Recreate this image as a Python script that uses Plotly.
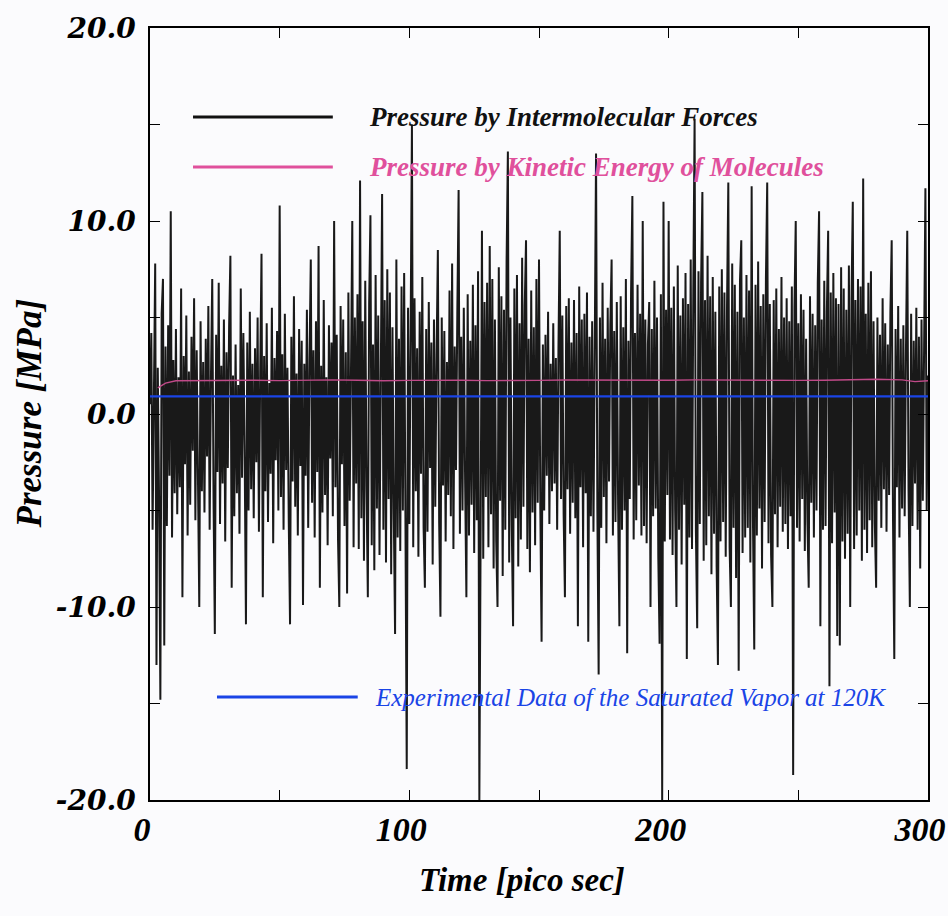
import plotly.graph_objects as go

# ---------------- data ----------------
TIME_STEP = 0.5  # pico sec between samples of the intermolecular pressure

# Pressure by intermolecular forces [MPa], one row = 10 ps (20 samples)
row00 = [0.5, 4.2, -6.0, 3.1, 7.8, -13.0, 2.4, -4.5, -14.8, 5.2, 7.0, -12.0, 3.5, -5.8, 4.6, -3.2, 10.5, -6.4, 2.8, -4.1]
row01 = [4.4, -5.2, 1.9, -3.8, 6.5, -9.5, 3.0, -2.6, 5.1, -6.3, 2.2, -4.7, 4.0, -1.9, 6.0, -5.5, 3.3, -3.4, -10.0, 4.8]
row02 = [-4.0, 2.7, -5.1, 3.9, -2.2, 5.6, -6.0, 1.8, 7.0, -4.4, -11.4, 4.1, -3.0, 6.8, -5.7, 2.5, -3.6, 4.9, -6.6, 3.2]
row03 = [-2.8, 4.5, 8.2, -9.0, 2.0, -5.3, 3.6, -4.1, 1.5, -6.2, 6.5, -3.3, 4.2, -2.0, -10.9, 3.7, -5.0, 5.3, -3.9, 2.6]
row04 = [-5.4, 3.4, -2.5, 5.0, -6.1, 2.3, 8.3, -9.5, 3.0, -4.0, 4.7, -5.6, 1.6, -3.1, 5.5, -6.7, 2.9, -2.4, 4.3, -5.0]
row05 = [10.8, -4.3, 3.1, -6.0, 5.2, -2.9, 2.4, -5.5, -10.9, 4.0, -3.5, 6.1, -4.8, 2.1, -6.3, 4.4, -2.7, 3.8, -9.9, 2.6]
row06 = [-3.2, 5.4, -5.9, 2.8, 8.0, -4.6, 3.3, -6.4, 4.8, -3.0, 8.7, -9.0, 2.5, -5.1, 5.9, -4.2, 1.9, -6.8, 4.6, -2.3]
row07 = [3.7, -5.3, 10.0, -3.8, 4.1, -6.5, -10.0, 5.6, -2.6, 4.9, -5.8, 3.2, -9.3, 6.3, -4.5, 2.2, 10.0, -6.9, 5.0, -3.6]
row08 = [6.2, -7.0, 12.1, -5.4, 4.8, -7.6, 6.9, -3.9, -9.5, 5.7, 10.3, -6.8, 3.6, -8.1, 7.2, -4.9, 5.1, -7.3, 4.0, 11.4]
row09 = [-6.0, 5.9, -7.7, 7.5, -4.4, 6.3, -8.3, 4.5, -5.2, -11.4, 8.0, -6.4, 3.9, -7.1, 6.6, -5.0, 7.3, -8.6, -18.4, 5.5]
row10 = [-5.7, 4.2, 15.0, -6.9, 6.0, -4.0, 3.4, -7.4, 5.3, -3.1, 7.1, -5.9, -9.0, 4.4, -6.1, 5.8, -2.8, 3.7, -7.8, 4.9]
row11 = [-4.8, 3.1, 8.5, -5.6, -10.5, 5.0, -3.7, 4.3, -6.6, 2.7, -4.2, 6.4, -5.3, 7.8, -7.0, 3.5, -2.9, 5.2, 11.6, -6.2]
row12 = [4.0, -5.0, 5.5, -3.4, -9.5, 6.2, -6.3, 3.8, -4.7, 6.7, -7.2, 4.6, -5.5, 7.4, -20.0, -6.0, 9.5, -7.5, 5.8, -4.3]
row13 = [6.8, -6.9, 8.7, -5.2, 7.0, -8.0, 4.9, -6.6, -10.0, 7.6, -4.5, 6.1, -8.4, 5.4, -6.0, 7.9, 13.6, -7.7, 5.0, -5.8]
row14 = [-11.0, 6.5, -5.4, 7.2, -7.9, 4.7, -6.5, 8.1, -4.8, 5.6, 9.0, -7.0, 3.9, -8.2, 6.4, -5.1, 4.5, -6.8, 7.0, -4.6]
row15 = [8.0, -4.8, -11.8, 3.6, -5.0, 4.1, -3.2, 5.3, -5.7, 2.6, -4.0, 4.7, -3.6, 2.9, -6.0, 3.4, 9.5, -4.4, 5.1, -5.2]
row16 = [-9.5, 5.6, -3.9, 6.0, -6.2, 3.7, -4.6, 5.9, -5.4, 4.2, -11.0, 6.6, -3.8, 4.9, -6.9, 5.2, -4.1, 6.3, -11.8, 4.0]
row17 = [-5.3, 4.8, -6.1, 3.5, 13.5, -4.9, -13.5, 5.0, -5.9, 6.8, -4.3, 3.9, -6.7, 5.5, -3.5, 4.6, 8.0, -6.3, 4.3, -5.6]
row18 = [5.8, -4.7, -11.0, 6.1, -6.0, 4.5, -5.0, 7.0, -12.4, 3.8, -4.4, 6.3, 11.3, -6.5, 4.2, -5.5, 6.7, -3.7, 5.2, -6.3]
row19 = [10.0, -5.8, 4.9, -6.7, 3.6, 5.8, -10.0, 4.4, -5.3, 6.9, -4.9, 5.0, -7.4, -11.9, 6.2, -20.0, 11.0, -6.6, 5.4, -4.2]
row20 = [10.0, -6.5, 5.5, -7.3, 6.6, -5.0, -10.0, 7.7, -6.0, 5.1, -7.8, 6.0, -4.7, 7.3, -12.7, 5.7, -6.4, 8.0, -7.0, 6.4]
row21 = [15.3, -6.1, -11.1, 7.4, -5.7, 6.8, 11.5, -7.6, 5.9, -6.8, 8.2, -5.3, 6.1, -8.3, 7.1, -6.2, 5.3, -7.9, -13.0, 6.6]
row22 = [-6.6, 7.5, -5.6, 6.3, -7.4, 5.6, 12.0, -6.9, -10.0, 7.8, -5.9, 6.7, -8.5, 5.3, -13.3, 6.9, 9.0, -7.2, 5.0, -6.4]
row23 = [7.2, -5.9, 6.4, -7.7, 11.8, -5.5, -12.2, 6.7, -6.3, 7.9, -4.9, 5.6, -8.0, 6.2, -5.6, 7.0, 12.0, -6.7, 5.7, -7.3]
row24 = [-10.0, 5.9, -5.2, 6.5, -6.9, 4.4, -4.8, 7.1, -6.1, 5.0, -5.7, 6.0, -7.0, 4.8, -5.3, 6.6, -18.7, 5.5, 10.0, -5.9]
row25 = [4.7, -6.6, 6.2, -4.4, 5.4, -7.1, 3.9, -5.5, -9.0, 6.1, -4.6, 5.2, -6.4, 4.6, -5.0, 6.8, 10.5, -11.0, 4.9, -6.0]
row26 = [6.9, -5.8, 5.3, 9.5, -14.1, 6.3, -6.7, 7.3, -5.1, 6.0, -11.5, 5.7, -12.0, 7.6, -6.6, 6.5, -7.5, 5.4, -6.2, 7.7]
row27 = [-10.0, 6.0, 11.0, -7.0, 5.9, -6.3, 7.0, -5.0, 6.6, -7.6, 12.2, -6.0, 5.2, -7.2, 6.8, -5.5, 7.4, -6.9, 4.8, -5.7]
row28 = [-9.0, 5.0, -4.5, 4.1, -5.9, 6.0, -3.9, 4.7, -6.1, 3.6, -4.2, 5.3, 9.0, -5.4, -12.7, 4.4, -3.8, 5.6, -6.4, 3.9]
row29 = [-4.9, 4.6, -5.3, 3.3, 9.5, -4.0, -10.0, 5.2, -5.8, 3.8, -3.6, 5.5, -6.0, 4.0, -8.0, 4.9, -4.5, 3.5, 11.7, -5.0]
row30 = [2.0]

intermolecular = (row00 + row01 + row02 + row03 + row04 + row05 + row06 + row07 + row08 + row09
                  + row10 + row11 + row12 + row13 + row14 + row15 + row16 + row17 + row18 + row19
                  + row20 + row21 + row22 + row23 + row24 + row25 + row26 + row27 + row28 + row29 + row30)
time_ps = [i * TIME_STEP for i in range(len(intermolecular))]

# Pressure by kinetic energy of molecules [MPa]
kinetic_time = [3, 6, 10, 20, 30, 40, 50, 60, 70, 80, 90, 100, 110, 120, 130, 140, 150, 160, 170,
                180, 190, 200, 210, 220, 230, 240, 250, 260, 270, 280, 290, 295, 300]
kinetic = [1.35, 1.6, 1.72, 1.74, 1.76, 1.75, 1.73, 1.76, 1.77, 1.75, 1.72, 1.74, 1.76, 1.75, 1.73,
           1.72, 1.74, 1.76, 1.75, 1.74, 1.73, 1.75, 1.77, 1.76, 1.74, 1.72, 1.74, 1.75, 1.78, 1.80,
           1.77, 1.68, 1.72]

# Experimental saturated vapour pressure at 120 K [MPa]
exp_time = [0, 300]
exp_pressure = [0.91, 0.91]

x_tickvals = [0, 50, 100, 150, 200, 250, 300]
x_ticktext = ["0", "", "100", "", "200", "", "300"]
y_tickvals = [-20, -15, -10, -5, 0, 5, 10, 15, 20]
y_ticktext = ["-20.0", "", "-10.0", "", "0.0", "", "10.0", "", "20.0"]

legend_labels = ["Pressure by Intermolecular Forces",
                 "Pressure by Kinetic Energy of Molecules",
                 "Experimental Data of the Saturated Vapor at 120K"]

# ---------------- figure ----------------
BLACK = "#111111"
PINK = "#e0509c"
PINK_LINE = "#c04a88"
BLUE = "#1a44e6"
SERIF = "Liberation Serif"

fig = go.Figure()
fig.add_trace(go.Scatter(x=time_ps, y=intermolecular, mode="lines",
                         line=dict(color="rgba(0,0,0,0.9)", width=2), showlegend=False))
fig.add_trace(go.Scatter(x=kinetic_time, y=kinetic, mode="lines",
                         line=dict(color=PINK_LINE, width=1.4), showlegend=False))
fig.add_trace(go.Scatter(x=exp_time, y=exp_pressure, mode="lines",
                         line=dict(color=BLUE, width=2.2), showlegend=False))

axis_common = dict(showline=True, linecolor="black", linewidth=1.5, mirror="ticks",
                   ticks="inside", ticklen=10, tickwidth=1.2, tickcolor="black",
                   showgrid=False, zeroline=False, automargin=False)

fig.update_xaxes(range=[0, 300], tickmode="array", tickvals=x_tickvals, ticktext=x_ticktext,
                 tickfont=dict(family=SERIF, size=34, color="black", style="italic", weight="bold"),
                 ticklabelstandoff=-2, ticklabelshift=-8, **axis_common)
fig.update_yaxes(range=[-20, 20], tickmode="array", tickvals=y_tickvals, ticktext=y_ticktext,
                 tickfont=dict(family="DejaVu Serif", size=28, color="black", style="italic", weight="bold"),
                 ticklabelstandoff=7, **axis_common)

# legend drawn inside the plot
fig.add_shape(type="line", xref="paper", yref="paper", x0=0.0553, x1=0.235, y0=0.8847, y1=0.8847,
              line=dict(color=BLACK, width=3))
fig.add_shape(type="line", xref="paper", yref="paper", x0=0.0553, x1=0.235, y0=0.820, y1=0.820,
              line=dict(color=PINK, width=3))
fig.add_shape(type="line", xref="paper", yref="paper", x0=0.0861, x1=0.267, y0=0.1334, y1=0.1334,
              line=dict(color=BLUE, width=3))

legend_font = dict(family=SERIF, size=27, style="italic", weight="bold")
fig.add_annotation(xref="paper", yref="paper", x=0.279, y=0.8847, xanchor="left", yanchor="middle",
                   text=legend_labels[0], showarrow=False,
                   font=dict(color=BLACK, **legend_font))
fig.add_annotation(xref="paper", yref="paper", x=0.279, y=0.820, xanchor="left", yanchor="middle",
                   text=legend_labels[1], showarrow=False,
                   font=dict(color=PINK, **legend_font))
fig.add_annotation(xref="paper", yref="paper", x=0.2866, y=0.1334, xanchor="left", yanchor="middle",
                   text=legend_labels[2], showarrow=False,
                   font=dict(family=SERIF, size=25, color=BLUE, style="italic"))

# axis titles
fig.add_annotation(xref="paper", yref="paper", x=0.478, y=-0.104, xanchor="center", yanchor="middle",
                   text="Time [pico sec]", showarrow=False,
                   font=dict(family=SERIF, size=33, color="black", style="italic", weight="bold"))
fig.add_annotation(xref="paper", yref="paper", x=-0.155, y=0.50, xanchor="center", yanchor="middle",
                   text="Pressure [MPa]", showarrow=False, textangle=-90,
                   font=dict(family=SERIF, size=35, color="black", style="italic", weight="bold"))

fig.update_layout(width=948, height=916, margin=dict(l=150, r=20, t=28, b=116, autoexpand=False),
                  paper_bgcolor="#fbfbfd", plot_bgcolor="#fbfbfd", showlegend=False)

fig.write_html("out.html")
